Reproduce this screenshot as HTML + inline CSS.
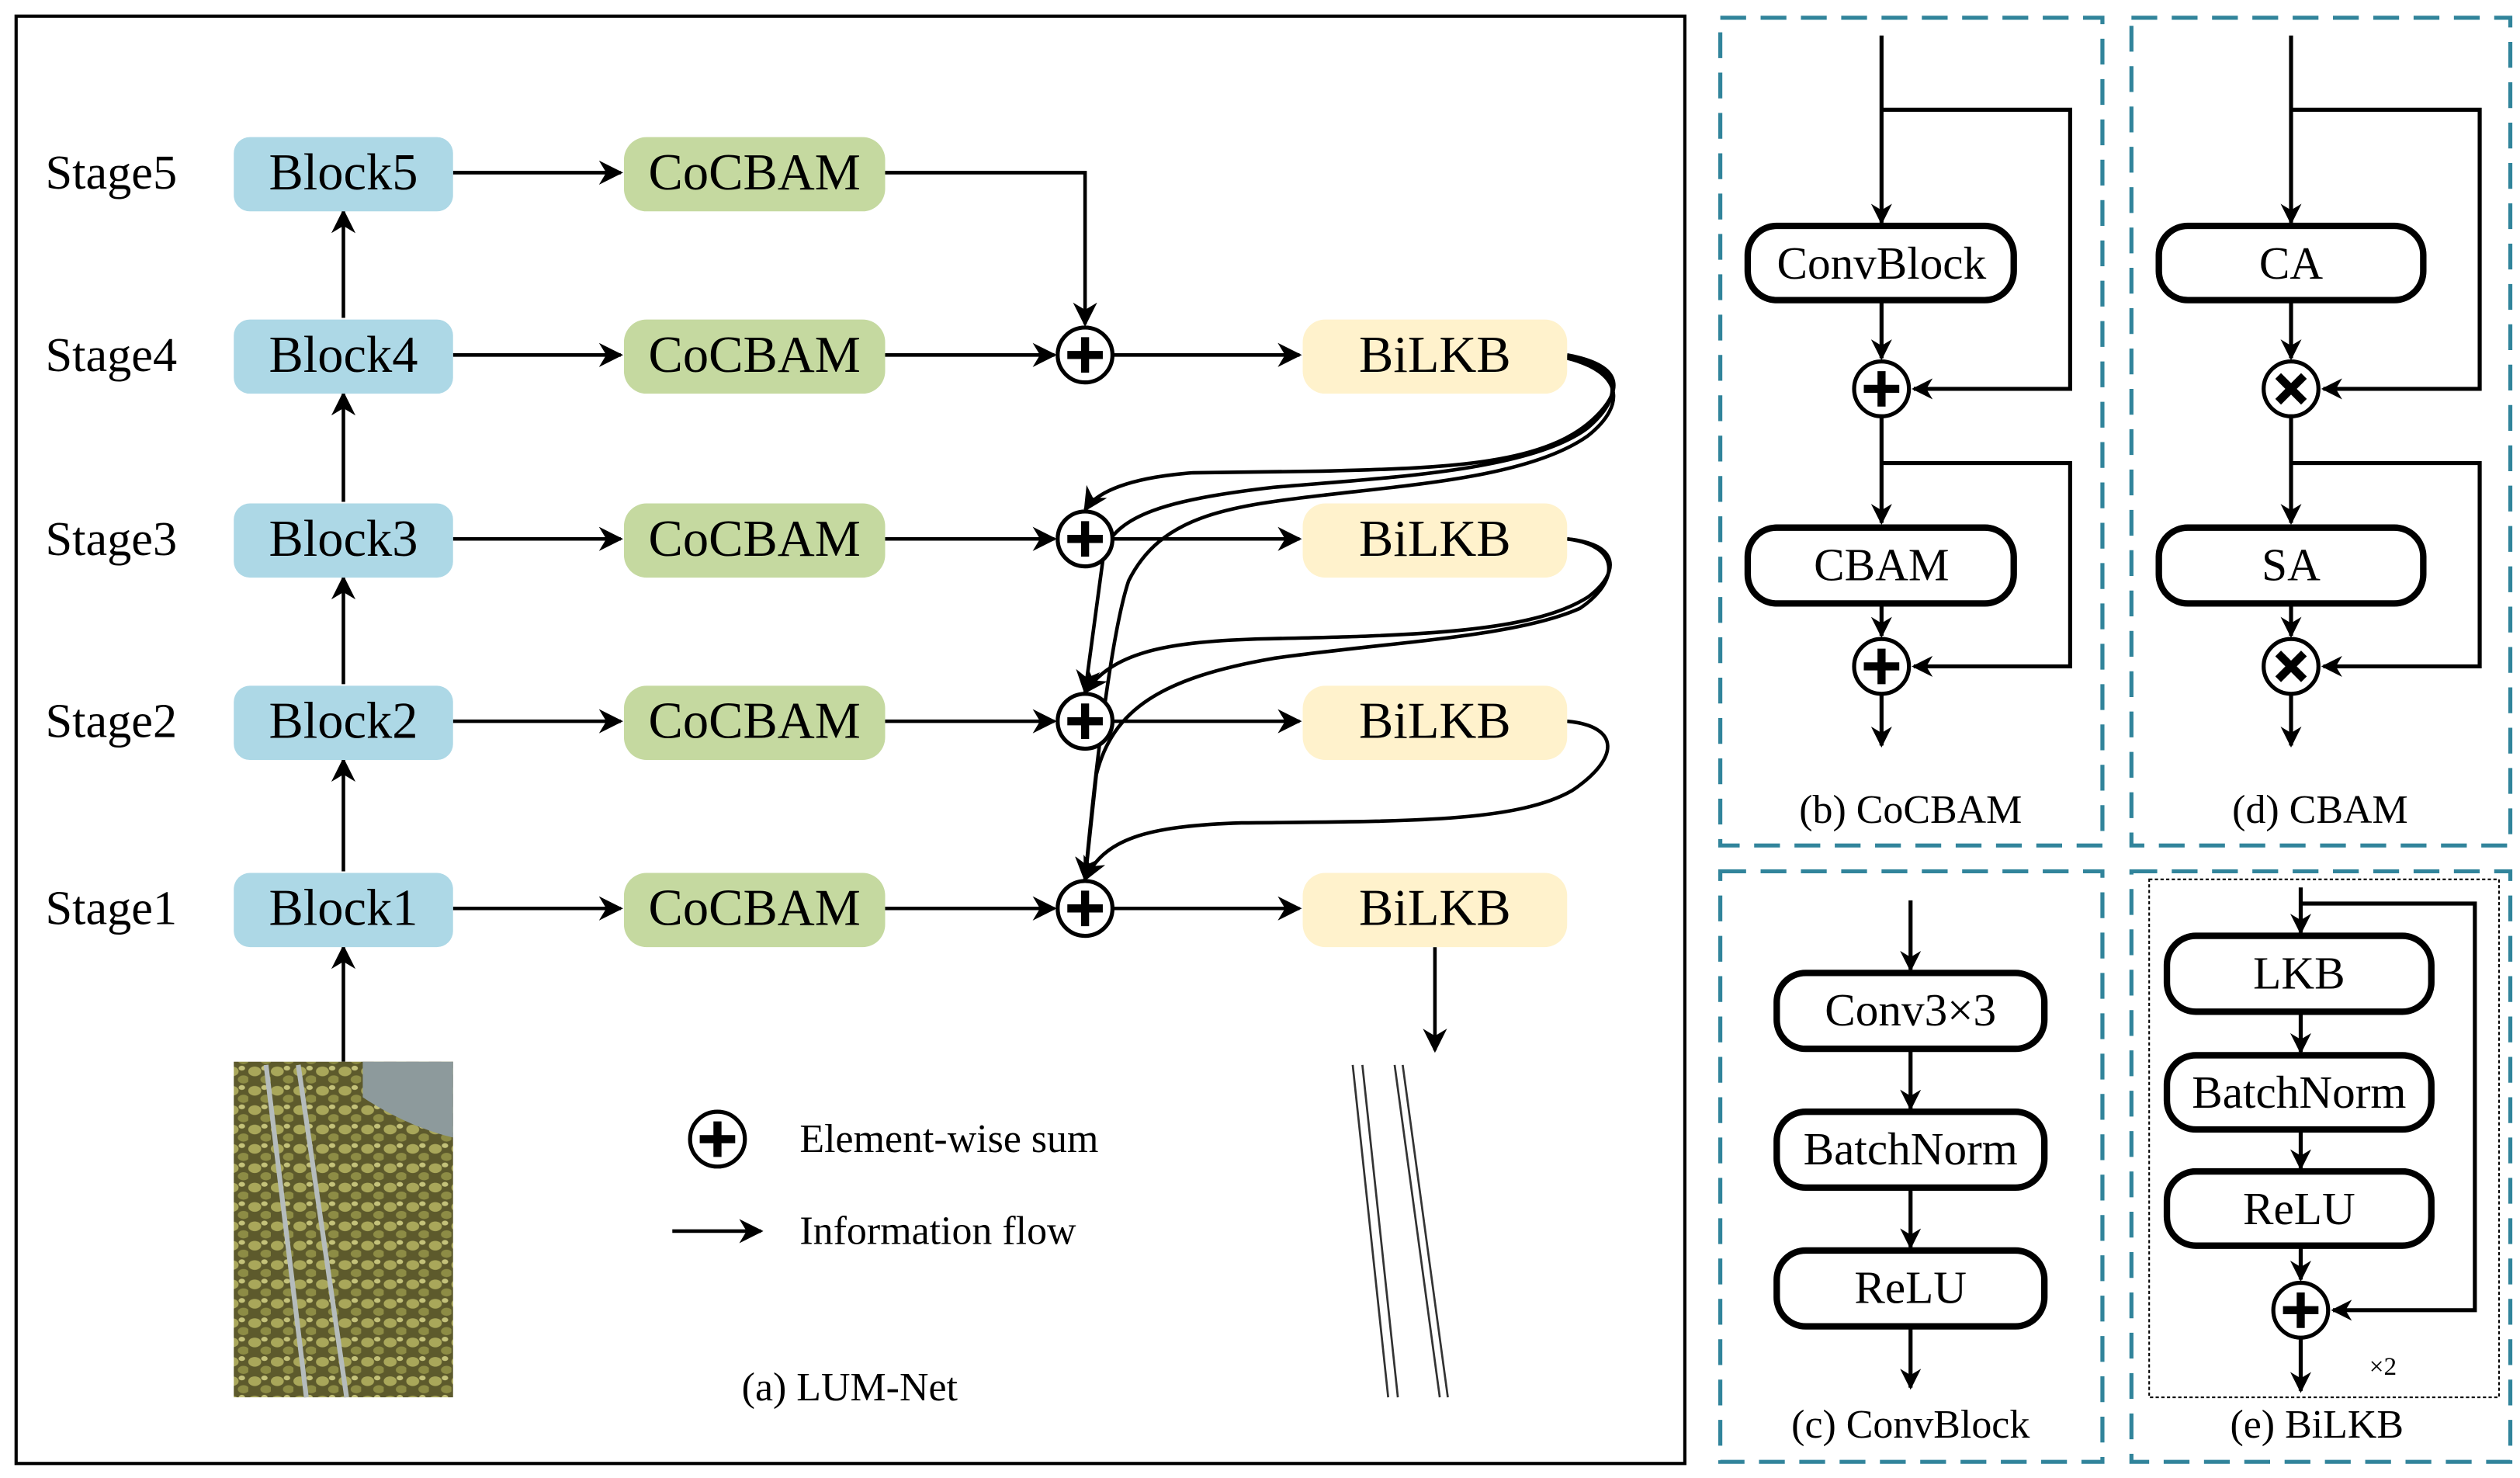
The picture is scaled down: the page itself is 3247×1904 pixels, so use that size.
<!DOCTYPE html>
<html><head><meta charset="utf-8"><style>html,body{margin:0;padding:0;background:#fff}svg{display:block}</style></head>
<body>
<svg width="3247" height="1904" viewBox="0 0 1563 916" preserveAspectRatio="none" xmlns="http://www.w3.org/2000/svg" font-family="Liberation Serif, serif">
<defs>
<marker id="a" viewBox="0 0 10 10" refX="9" refY="5" markerWidth="13" markerHeight="13" orient="auto" markerUnits="userSpaceOnUse"><path d="M0,0 L10,5 L0,10 L3,5 Z" fill="#000"/></marker>
<marker id="m" viewBox="0 0 10 10" refX="9" refY="5" markerWidth="15" markerHeight="15" orient="auto" markerUnits="userSpaceOnUse"><path d="M0,0 L10,5 L0,10 L3,5 Z" fill="#000"/></marker>
<pattern id="leaf" width="14" height="12" patternUnits="userSpaceOnUse"><rect width="14" height="12" fill="#5d5a2c"/><ellipse cx="4" cy="4" rx="4" ry="3" fill="#a9a75a"/><ellipse cx="11" cy="9" rx="3.5" ry="2.5" fill="#8d8c45"/><ellipse cx="10" cy="2" rx="2" ry="1.5" fill="#c4c27a"/></pattern>
</defs>
<rect x="10" y="10" width="1035" height="897" fill="none" stroke="#000" stroke-width="2"/>
<g font-size="30" text-anchor="middle" dominant-baseline="central">
<text x="69" y="107">Stage5</text><text x="69" y="220">Stage4</text><text x="69" y="334">Stage3</text><text x="69" y="447">Stage2</text><text x="69" y="563">Stage1</text>
</g>
<g stroke="#000" stroke-width="2.2" fill="none" marker-end="url(#m)">
<line x1="213" y1="197" x2="213" y2="131"/><line x1="213" y1="311" x2="213" y2="244"/><line x1="213" y1="424" x2="213" y2="358"/><line x1="213" y1="540" x2="213" y2="471"/><line x1="213" y1="658" x2="213" y2="587"/>
<line x1="281" y1="107" x2="385" y2="107"/><line x1="281" y1="220" x2="385" y2="220"/><line x1="281" y1="334" x2="385" y2="334"/><line x1="281" y1="447" x2="385" y2="447"/><line x1="281" y1="563" x2="385" y2="563"/>
<path d="M549,107 H673 V201"/>
<line x1="549" y1="220" x2="654" y2="220"/><line x1="549" y1="334" x2="654" y2="334"/><line x1="549" y1="447" x2="654" y2="447"/><line x1="549" y1="563" x2="654" y2="563"/>
<line x1="690" y1="220" x2="806" y2="220"/><line x1="690" y1="334" x2="806" y2="334"/><line x1="690" y1="447" x2="806" y2="447"/><line x1="690" y1="563" x2="806" y2="563"/>
<line x1="890" y1="587" x2="890" y2="651"/>
<path d="M972,220 C1005,226 1008,240 990,258 C960,288 900,290 820,292 L740,293 C700,296 680,305 673,316"/>
<path d="M972,221 C1005,228 1008,245 985,265 C950,292 860,296 790,302 C720,310 695,320 685,340 L673,429"/>
<path d="M972,222 C1005,230 1010,250 985,270 C950,295 880,300 820,307 C760,314 720,320 700,360 C690,390 680,470 673,545"/>
<path d="M972,334 C1005,337 1005,355 985,370 C950,392 880,394 780,396 C720,398 690,405 673,429"/>
<path d="M972,334 C1005,338 1005,360 980,377 C940,395 860,398 790,408 C720,420 690,440 680,480 L673,545"/>
<path d="M972,447 C1005,450 1005,470 975,490 C940,510 870,509 770,510 C710,512 685,520 673,545"/>
<line x1="417" y1="763" x2="472" y2="763"/>
</g>
<g>
<rect x="145" y="85" width="136" height="46" rx="10" fill="#add8e6"/><rect x="145" y="198" width="136" height="46" rx="10" fill="#add8e6"/><rect x="145" y="312" width="136" height="46" rx="10" fill="#add8e6"/><rect x="145" y="425" width="136" height="46" rx="10" fill="#add8e6"/><rect x="145" y="541" width="136" height="46" rx="10" fill="#add8e6"/>
<rect x="387" y="85" width="162" height="46" rx="14" fill="#c5d9a0"/><rect x="387" y="198" width="162" height="46" rx="14" fill="#c5d9a0"/><rect x="387" y="312" width="162" height="46" rx="14" fill="#c5d9a0"/><rect x="387" y="425" width="162" height="46" rx="14" fill="#c5d9a0"/><rect x="387" y="541" width="162" height="46" rx="14" fill="#c5d9a0"/>
<rect x="808" y="198" width="164" height="46" rx="14" fill="#fff2cc"/><rect x="808" y="312" width="164" height="46" rx="14" fill="#fff2cc"/><rect x="808" y="425" width="164" height="46" rx="14" fill="#fff2cc"/><rect x="808" y="541" width="164" height="46" rx="14" fill="#fff2cc"/>
</g>
<g font-size="32" text-anchor="middle" dominant-baseline="central">
<text x="213" y="107">Block5</text><text x="213" y="220">Block4</text><text x="213" y="334">Block3</text><text x="213" y="447">Block2</text><text x="213" y="563">Block1</text>
<text x="468" y="107">CoCBAM</text><text x="468" y="220">CoCBAM</text><text x="468" y="334">CoCBAM</text><text x="468" y="447">CoCBAM</text><text x="468" y="563">CoCBAM</text>
<text x="890" y="220">BiLKB</text><text x="890" y="334">BiLKB</text><text x="890" y="447">BiLKB</text><text x="890" y="563">BiLKB</text>
</g>
<g>
<g stroke="#000" fill="#fff" stroke-width="2.5"><circle cx="673" cy="220" r="17"/><circle cx="673" cy="334" r="17"/><circle cx="673" cy="447" r="17"/><circle cx="673" cy="563" r="17"/><circle cx="445" cy="706" r="17"/></g>
<g stroke="#000" stroke-width="5"><path d="M662,220h22M673,209v22M662,334h22M673,323v22M662,447h22M673,436v22M662,563h22M673,552v22M434,706h22M445,695v22"/></g>
</g>
<rect x="145" y="658" width="136" height="208" fill="url(#leaf)"/>
<path d="M225,658 H281 V705 C260,700 240,690 225,680 Z" fill="#8d9a9c"/>
<g stroke="#b5bcbc" stroke-width="3"><line x1="165" y1="660" x2="190" y2="866"/><line x1="185" y1="660" x2="215" y2="866"/></g>
<g stroke="#333" stroke-width="1.3"><line x1="839" y1="660" x2="861" y2="866"/><line x1="845" y1="660" x2="867" y2="866"/><line x1="865" y1="660" x2="893" y2="866"/><line x1="870" y1="660" x2="898" y2="866"/></g>
<g font-size="25" dominant-baseline="central"><text x="496" y="706">Element-wise sum</text><text x="496" y="763">Information flow</text><text x="527" y="860" text-anchor="middle">(a) LUM-Net</text></g>
<g fill="none" stroke="#31849b" stroke-width="2.5" stroke-dasharray="16,9">
<rect x="1067" y="11" width="237" height="513"/><rect x="1322" y="11" width="235" height="513"/><rect x="1067" y="540" width="237" height="366"/><rect x="1322" y="540" width="235" height="366"/>
</g>
<rect x="1333" y="545" width="217" height="321" fill="none" stroke="#000" stroke-width="1" stroke-dasharray="2,1.5"/>
<g stroke="#000" stroke-width="2.5" fill="none" marker-end="url(#a)">
<line x1="1167" y1="22" x2="1167" y2="138"/><path d="M1167,68 H1284 V241 H1187"/><line x1="1167" y1="186" x2="1167" y2="222"/><line x1="1167" y1="258" x2="1167" y2="324"/><path d="M1167,287 H1284 V413 H1187"/><line x1="1167" y1="374" x2="1167" y2="394"/><line x1="1167" y1="430" x2="1167" y2="462"/>
<line x1="1421" y1="22" x2="1421" y2="138"/><path d="M1421,68 H1538 V241 H1441"/><line x1="1421" y1="186" x2="1421" y2="222"/><line x1="1421" y1="258" x2="1421" y2="324"/><path d="M1421,287 H1538 V413 H1441"/><line x1="1421" y1="374" x2="1421" y2="394"/><line x1="1421" y1="430" x2="1421" y2="462"/>
<line x1="1185" y1="558" x2="1185" y2="601"/><line x1="1185" y1="650" x2="1185" y2="687"/><line x1="1185" y1="736" x2="1185" y2="773"/><line x1="1185" y1="822" x2="1185" y2="860"/>
<line x1="1427" y1="550" x2="1427" y2="578"/><path d="M1427,560 H1535 V812 H1447"/><line x1="1427" y1="627" x2="1427" y2="652"/><line x1="1427" y1="700" x2="1427" y2="724"/><line x1="1427" y1="772" x2="1427" y2="793"/><line x1="1427" y1="829" x2="1427" y2="862"/>
</g>
<g fill="#fff" stroke="#000" stroke-width="4">
<rect x="1084" y="140" width="165" height="46" rx="18"/><rect x="1084" y="327" width="165" height="47" rx="18"/>
<rect x="1339" y="140" width="164" height="46" rx="18"/><rect x="1339" y="327" width="164" height="47" rx="18"/>
<rect x="1102" y="603" width="166" height="47" rx="18"/><rect x="1102" y="689" width="166" height="47" rx="18"/><rect x="1102" y="775" width="166" height="47" rx="18"/>
<rect x="1344" y="580" width="164" height="47" rx="18"/><rect x="1344" y="654" width="164" height="46" rx="18"/><rect x="1344" y="726" width="164" height="46" rx="18"/>
</g>
<g fill="#fff" stroke="#000" stroke-width="2.5"><circle cx="1167" cy="241" r="17"/><circle cx="1167" cy="413" r="17"/><circle cx="1421" cy="241" r="17"/><circle cx="1421" cy="413" r="17"/><circle cx="1427" cy="812" r="17"/></g>
<g stroke="#000" stroke-width="5"><path d="M1156,241h22M1167,230v22M1156,413h22M1167,402v22M1416,812h22M1427,801v22M1413,233l16,16M1429,233l-16,16M1413,405l16,16M1429,405l-16,16"/></g>
<g font-size="28.5" text-anchor="middle" dominant-baseline="central">
<text x="1167" y="163">ConvBlock</text><text x="1167" y="350">CBAM</text><text x="1421" y="163">CA</text><text x="1421" y="350">SA</text>
<text x="1185" y="626">Conv3×3</text><text x="1185" y="712">BatchNorm</text><text x="1185" y="798">ReLU</text>
<text x="1426" y="603">LKB</text><text x="1426" y="677">BatchNorm</text><text x="1426" y="749">ReLU</text>
</g>
<g font-size="25" text-anchor="middle" dominant-baseline="central">
<text x="1185" y="502">(b) CoCBAM</text><text x="1439" y="502">(d) CBAM</text><text x="1185" y="883">(c) ConvBlock</text><text x="1437" y="883">(e) BiLKB</text>
<text x="1478" y="847" font-size="16">×2</text>
</g>
</svg>
</body></html>
